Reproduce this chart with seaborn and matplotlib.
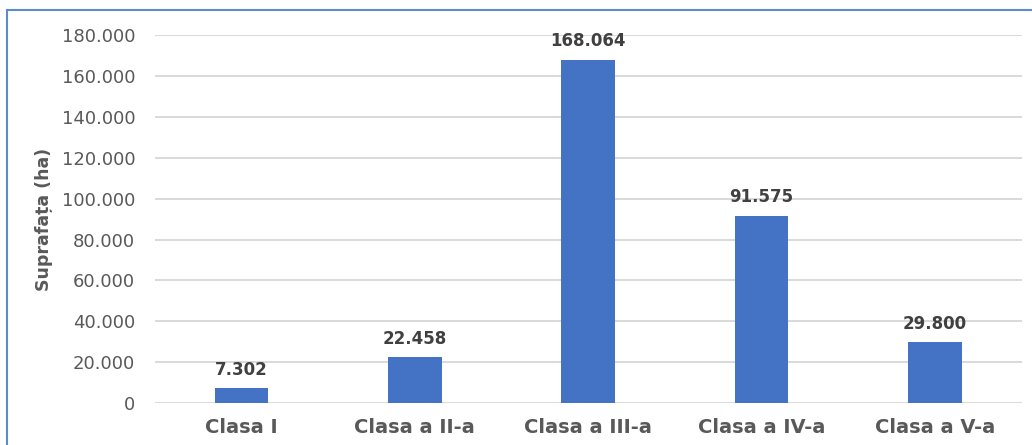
#!/usr/bin/env python3

import matplotlib.pyplot as plt
import pandas as pd
import seaborn as sns
from matplotlib.patches import Rectangle
from matplotlib.ticker import FuncFormatter

categories = ["Clasa I", "Clasa a II-a", "Clasa a III-a", "Clasa a IV-a", "Clasa a V-a"]
values = [7302, 22458, 168064, 91575, 29800]
y_label = "Suprafața (ha)"


def thousands(x, pos=None):
    return f"{int(round(x)):,}".replace(",", ".")


def main():
    df = pd.DataFrame({"clasa": categories, "suprafata": values})

    sns.set_theme(style="white")
    plt.rcParams["font.family"] = ["DejaVu Sans"]

    fig = plt.figure(figsize=(10.32, 4.45), dpi=100)
    ax = fig.add_axes([0.150, 0.094, 0.840, 0.827])

    sns.barplot(data=df, x="clasa", y="suprafata", color="#4472C4", saturation=1,
                width=0.31, linewidth=0, ax=ax, zorder=3)

    ax.set_ylim(0, 180000)
    ax.set_yticks(range(0, 180001, 20000))
    ax.yaxis.set_major_formatter(FuncFormatter(thousands))
    ax.grid(axis="y", color="#D9D9D9", linewidth=1.4, zorder=0)
    ax.set_axisbelow(True)
    for side in ["left", "right", "top", "bottom"]:
        ax.spines[side].set_visible(False)

    ax.tick_params(axis="y", labelsize=13, labelcolor="#595959", length=0, pad=14)
    ax.tick_params(axis="x", labelsize=14, labelcolor="#595959", length=0, pad=11)
    for lbl in ax.get_xticklabels():
        lbl.set_fontweight("bold")

    ax.set_xlabel("")
    ax.set_ylabel(y_label, fontsize=12.5, fontweight="bold", color="#595959", labelpad=6)

    for container in ax.containers:
        ax.bar_label(container, labels=[thousands(v) for v in values], padding=7,
                     fontsize=12, fontweight="bold", color="#404040")

    # chart frame (left / top edges visible)
    fig.patches.append(Rectangle((7 / 1032, -0.1), 1.2, (1 - 10 / 445) + 0.1,
                                 transform=fig.transFigure, fill=False,
                                 edgecolor="#5B8BD0", linewidth=1.5))

    fig.savefig("out.png", dpi=100)
    plt.close(fig)


if __name__ == "__main__":
    main()
